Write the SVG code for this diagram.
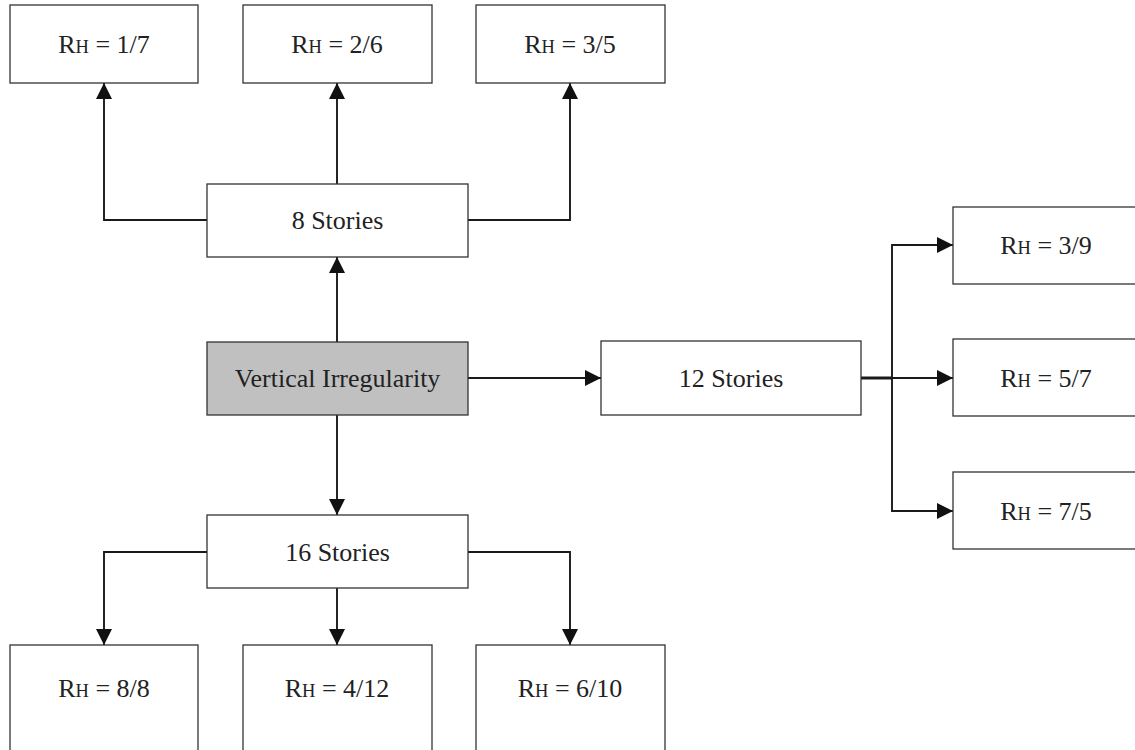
<svg xmlns="http://www.w3.org/2000/svg" width="1135" height="750" viewBox="0 0 1135 750">
<style>
.box{fill:#fff;stroke:#333;stroke-width:1.3}
.root{fill:#c0c0c0;stroke:#333;stroke-width:1.3}
.t{font-family:"Liberation Serif","Times New Roman",serif;font-size:26px;fill:#222;text-anchor:middle}
.sc{font-size:18.5px}
.c{fill:none;stroke:#1a1a1a;stroke-width:1.9;marker-end:url(#ah)}
.l{fill:none;stroke:#1a1a1a;stroke-width:3}
</style>
<defs>
<marker id="ah" viewBox="0 0 16 16" refX="16" refY="8" markerWidth="16" markerHeight="16" markerUnits="userSpaceOnUse" orient="auto">
<path d="M0,0 L16,8 L0,16 Z" fill="#111"/>
</marker>
</defs>
<rect width="1135" height="750" fill="#fff"/>
<g id="connectors">
<path class="c" d="M337,342 V257"/>
<path class="c" d="M207,220 H104 V83"/>
<path class="c" d="M337,184 V83"/>
<path class="c" d="M468,220 H570 V83"/>
<path class="c" d="M468,378 H601"/>
<path class="l" d="M861,378 H892"/>
<path class="c" d="M892,378 V245 H953"/>
<path class="c" d="M892,378 H953"/>
<path class="c" d="M892,378 V511 H953"/>
<path class="c" d="M337,415 V515"/>
<path class="c" d="M207,552 H104 V645"/>
<path class="c" d="M337,588 V645"/>
<path class="c" d="M468,552 H570 V645"/>
</g>
<g id="n-r17"><rect class="box" x="10" y="5" width="188" height="78"/><text class="t" x="104" y="53">R<tspan class="sc">H</tspan> = 1/7</text></g>
<g id="n-r26"><rect class="box" x="243" y="5" width="189" height="78"/><text class="t" x="337" y="53">R<tspan class="sc">H</tspan> = 2/6</text></g>
<g id="n-r35"><rect class="box" x="476" y="5" width="189" height="78"/><text class="t" x="570" y="53">R<tspan class="sc">H</tspan> = 3/5</text></g>
<g id="n-8"><rect class="box" x="207" y="184" width="261" height="73"/><text class="t" x="337.5" y="229">8 Stories</text></g>
<g id="n-root"><rect class="root" x="207" y="342" width="261" height="73"/><text class="t" x="337.5" y="387">Vertical Irregularity</text></g>
<g id="n-12"><rect class="box" x="601" y="341" width="260" height="74"/><text class="t" x="731" y="387">12 Stories</text></g>
<g id="n-r39"><rect class="box" x="953" y="207" width="190" height="77"/><text class="t" x="1046" y="254">R<tspan class="sc">H</tspan> = 3/9</text></g>
<g id="n-r57"><rect class="box" x="953" y="339" width="190" height="77"/><text class="t" x="1046" y="387">R<tspan class="sc">H</tspan> = 5/7</text></g>
<g id="n-r75"><rect class="box" x="953" y="472" width="190" height="77"/><text class="t" x="1046" y="520">R<tspan class="sc">H</tspan> = 7/5</text></g>
<g id="n-16"><rect class="box" x="207" y="515" width="261" height="73"/><text class="t" x="337.5" y="561">16 Stories</text></g>
<g id="n-r88"><rect class="box" x="10" y="645" width="188" height="110"/><text class="t" x="104" y="697">R<tspan class="sc">H</tspan> = 8/8</text></g>
<g id="n-r412"><rect class="box" x="243" y="645" width="189" height="110"/><text class="t" x="337" y="697">R<tspan class="sc">H</tspan> = 4/12</text></g>
<g id="n-r610"><rect class="box" x="476" y="645" width="189" height="110"/><text class="t" x="570" y="697">R<tspan class="sc">H</tspan> = 6/10</text></g>
</svg>
